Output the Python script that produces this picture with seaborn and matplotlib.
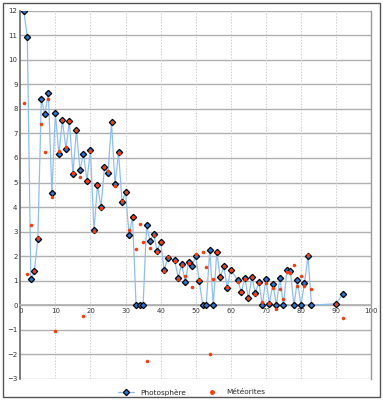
import matplotlib
matplotlib.use("Agg")
import matplotlib.pyplot as plt
import matplotlib.patches as mpatches
from matplotlib.lines import Line2D
import seaborn as sns

# numéros atomiques et abondances (log, H = 12)
z_photo = list(range(1, 43)) + list(range(44, 61)) + list(range(62, 84)) + [90, 92]
photo = [12.00, 10.93, 1.05, 1.38, 2.70, 8.39, 7.78, 8.66, 4.56, 7.84,
         6.17, 7.53, 6.37, 7.51, 5.36, 7.14, 5.50, 6.18, 5.08, 6.31,
         3.05, 4.90, 4.00, 5.64, 5.39, 7.45, 4.92, 6.23, 4.21, 4.60,
         2.88, 3.58, 0.00, 0.00, 0.00, 3.28, 2.60, 2.92, 2.21, 2.59,
         1.42, 1.92,
         1.84, 1.12, 1.69, 0.94, 1.77, 1.60, 2.00, 1.00, 0.00, 0.00,
         2.27, 0.00, 2.17, 1.13, 1.58, 0.71, 1.45,
         1.01, 0.52, 1.12, 0.28, 1.14, 0.51, 0.93, 0.00, 1.08, 0.06,
         0.88, 0.00, 1.11, 0.00, 1.45, 1.38, 0.00, 1.01, 0.00, 0.90,
         2.00, 0.00,
         0.06, 0.47]

z_met = list(z_photo)
met = [8.25, 1.29, 3.25, 1.38, 2.75, 7.40, 6.25, 8.39, 4.43, -1.06,
       6.27, 7.53, 6.43, 7.51, 5.40, 7.16, 5.23, -0.45, 5.06, 6.29,
       3.04, 4.89, 3.97, 5.63, 5.47, 7.45, 4.86, 6.19, 4.23, 4.61,
       3.07, 3.59, 2.29, 3.33, 2.56, -2.27, 2.33, 2.88, 2.17, 2.57,
       1.39, 1.96,
       1.81, 1.06, 1.64, 1.20, 1.71, 0.76, 2.07, 1.01, 2.18, 1.55,
       -1.97, 1.07, 2.16, 1.15, 1.58, 0.75, 1.45,
       0.95, 0.52, 1.05, 0.31, 1.13, 0.47, 0.92, 0.12, 0.92, 0.09,
       0.71, -0.14, 0.65, 0.26, 1.35, 1.32, 1.62, 0.80, 1.17, 0.77,
       2.04, 0.65,
       0.06, -0.54]

x_ticks = list(range(0, 101, 10))
y_ticks = list(range(-3, 13))

sns.set_theme(style="white")
plt.rcParams['font.family'] = ['DejaVu Sans']

fig = plt.figure(figsize=(3.83, 4.0), dpi=100)
ax = fig.add_axes([0.053, 0.053, 0.916, 0.92])

ligne_bleue = "#8fbff2"
bleu = "#2a78d6"
rouge = "#ff3a0a"

sns.lineplot(x=z_photo, y=photo, ax=ax, sort=False, color=ligne_bleue, linewidth=0.9,
             marker="D", markersize=3.2, markerfacecolor=bleu, markeredgecolor="black",
             markeredgewidth=0.9, zorder=3)
sns.scatterplot(x=z_met, y=met, ax=ax, color=rouge, marker="o", s=6.5, linewidth=0, zorder=4)

ax.set_xlim(0, 100)
ax.set_ylim(-3, 12)
ax.set_xticks(x_ticks)
ax.set_yticks(y_ticks)
ax.tick_params(axis="both", labelsize=5, length=0, pad=2, colors="#333333")

# grilles : horizontales pleines, verticales pointillées
for y in y_ticks:
    ax.axhline(y, color="#b0b0b0", linewidth=1.0, zorder=1)
for x in x_ticks[1:-1]:
    ax.axvline(x, color="#d0d0d0", linewidth=0.7, linestyle=(0, (1.5, 1.5)), zorder=1)

ax.spines["bottom"].set_position(("data", 0))
ax.spines["bottom"].set_color("#b0b0b0")
ax.spines["top"].set_visible(False)
ax.spines["left"].set_color("#666666")
ax.spines["left"].set_linewidth(1.2)
ax.spines["right"].set_color("#999999")
ax.spines["right"].set_linewidth(1.0)
ax.set_xlabel("")
ax.set_ylabel("")

handles = [
    Line2D([], [], color=ligne_bleue, linewidth=0.9, marker="D", markersize=3.2,
           markerfacecolor=bleu, markeredgecolor="black", markeredgewidth=0.9),
    Line2D([], [], color=rouge, linestyle="none", marker="o", markersize=2.5),
]
fig.legend(handles, ["Photosphère", "Météorites"], loc="center", bbox_to_anchor=(0.5, 0.02),
           ncol=2, frameon=False, fontsize=5.3, handlelength=2.2, columnspacing=2.5)

# cadre extérieur
fig.patches.append(mpatches.Rectangle((0.008, 0.008), 0.984, 0.985, transform=fig.transFigure,
                                      fill=False, edgecolor="#555555", linewidth=1.0))

fig.savefig("out.png", dpi=100)
